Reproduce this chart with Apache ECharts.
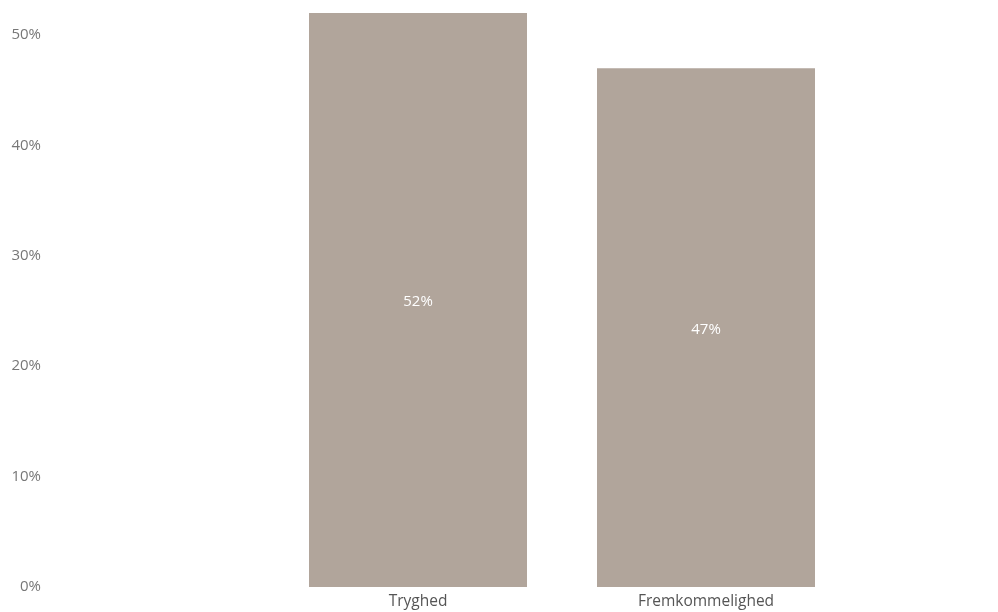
<!DOCTYPE html>
<html>
<head>
<meta charset="utf-8">
<script src="https://cdn.jsdelivr.net/npm/echarts@6/dist/echarts.min.js"></script>
<style>html,body{margin:0;padding:0;background:#fff}#c{width:998px;height:612px}</style>
</head>
<body>
<div id="c"></div>
<script>
var categories = ['Tryghed', 'Fremkommelighed'];
var values = [52, 47];
var yTicks = [0, 10, 20, 30, 40, 50];

var chart = echarts.init(document.getElementById('c'), null, {renderer: 'canvas'});
chart.setOption({
  animation: false,
  backgroundColor: '#ffffff',
  grid: {left: 274, right: 148, top: 13, bottom: 25, containLabel: false},
  xAxis: {
    type: 'category',
    data: categories,
    axisLine: {show: false},
    axisTick: {show: false},
    axisLabel: {color: '#555555', fontSize: 15.5, fontFamily: 'Open Sans', margin: 7}
  },
  yAxis: {
    type: 'value',
    min: yTicks[0],
    max: 52,
    interval: 10,
    offset: 225,
    axisLine: {show: false},
    axisTick: {show: false},
    splitLine: {show: false},
    axisLabel: {color: '#777777', fontSize: 15, fontFamily: 'Open Sans', margin: 8,
      showMaxLabel: false, formatter: '{value}%'}
  },
  series: [{
    type: 'bar',
    data: values,
    barWidth: 218,
    itemStyle: {color: '#B1A59B'},
    label: {show: true, position: 'inside', offset: [0, 2], color: '#ffffff', fontSize: 15,
      fontFamily: 'Open Sans', formatter: '{c}%'}
  }]
});
</script>
</body>
</html>
